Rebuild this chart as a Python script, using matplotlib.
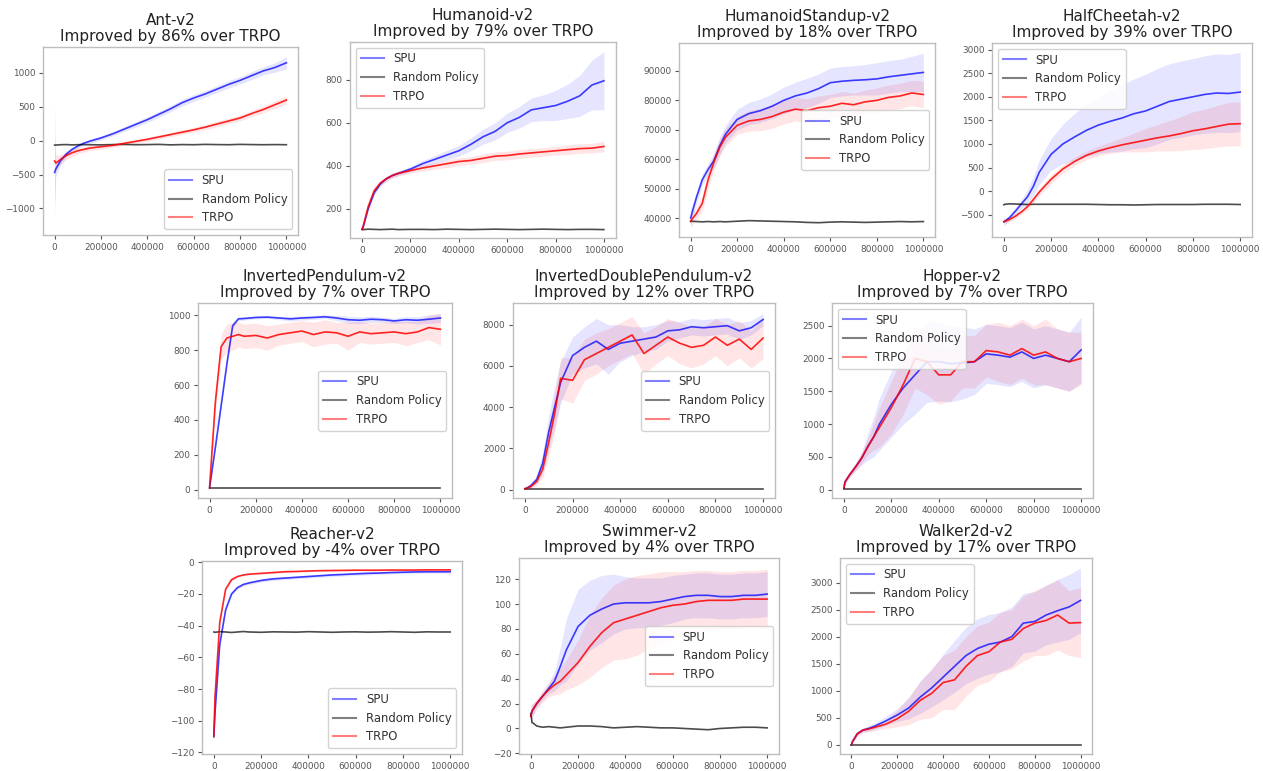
import numpy as np
import matplotlib
matplotlib.use("Agg")
import matplotlib.pyplot as plt

# ---------------- data ----------------
steps_k = [0, 5, 25, 50, 75, 100, 125, 150, 200, 250, 300, 350, 400, 450,
           500, 550, 600, 650, 700, 750, 800, 850, 900, 950, 1000]

ant_spu = [-470, -420, -300, -200, -130, -80, -40, -10, 40, 100, 170, 240, 310, 390,
           470, 560, 630, 690, 760, 830, 890, 960, 1030, 1080, 1150]
ant_spu_sd = [540, 100, 60, 40, 30, 30, 30, 30, 30, 30, 35, 40, 40, 45,
              45, 50, 50, 50, 50, 55, 55, 60, 60, 70, 90]
ant_trpo = [-300, -330, -280, -220, -180, -150, -130, -110, -90, -70, -40, -10, 20, 55,
            90, 125, 160, 200, 245, 290, 335, 400, 460, 530, 600]
ant_trpo_sd = [860, 120, 70, 60, 50, 45, 40, 40, 35, 30, 30, 30, 30, 30,
               30, 35, 35, 40, 40, 40, 45, 45, 50, 55, 60]
ant_rand = [-65, -65, -60, -58, -62, -60, -58, -60, -62, -58, -55, -60, -58, -55,
            -62, -58, -60, -55, -58, -60, -55, -58, -60, -58, -60]

hum_spu = [105, 120, 200, 275, 315, 340, 355, 365, 385, 410, 430, 450, 470, 500,
           535, 560, 600, 625, 660, 670, 680, 700, 725, 775, 795]
hum_spu_sd = [5, 8, 10, 10, 10, 10, 10, 10, 12, 15, 18, 22, 25, 30,
              35, 40, 45, 50, 55, 60, 70, 80, 95, 115, 135]
hum_trpo = [105, 120, 210, 285, 320, 340, 355, 365, 378, 390, 400, 410, 420, 425,
            435, 445, 448, 455, 460, 465, 470, 475, 480, 482, 490]
hum_trpo_sd = [5, 8, 10, 10, 12, 12, 12, 12, 12, 15, 15, 18, 18, 18,
               20, 20, 20, 20, 20, 20, 20, 22, 22, 22, 25]
hum_rand = [105, 104, 106, 105, 104, 105, 106, 104, 105, 105, 104, 106, 105, 104,
            105, 106, 105, 104, 105, 106, 105, 104, 105, 105, 104]

hs_spu = [40000, 41500, 47000, 53000, 56500, 59500, 64500, 68500, 73500, 75500, 76500, 78000, 80000, 81500,
          82500, 84000, 86000, 86500, 86800, 87000, 87300, 88000, 88500, 89000, 89500]
hs_spu_sd = [3000, 2500, 2000, 2000, 2000, 2500, 3000, 3000, 3500, 3800, 4000, 4200, 4500, 4700,
             5000, 5000, 5000, 5000, 5000, 5200, 5500, 5500, 5500, 6000, 6500]
hs_trpo = [39000, 39500, 41500, 45000, 53000, 59000, 64000, 67500, 71500, 73000, 73500, 74500, 76000, 77000,
           76500, 77500, 78000, 79000, 78500, 79500, 80000, 81000, 81500, 82500, 82000]
hs_trpo_sd = [2500, 2000, 2000, 2500, 3000, 3000, 3000, 3000, 3000, 3500, 3800, 4000, 4000, 4000,
              4000, 4000, 4000, 4000, 4000, 4000, 4200, 4200, 4300, 4300, 4500]
hs_rand = [38800, 38900, 38800, 38700, 38800, 38700, 38800, 38700, 38900, 39100, 39000, 38900, 38800, 38700,
           38500, 38400, 38600, 38700, 38600, 38500, 38600, 38700, 38800, 38700, 38800]

hc_spu = [-650, -640, -560, -420, -270, -120, 100, 400, 780, 1000, 1150, 1290, 1400, 1480,
          1550, 1640, 1700, 1800, 1900, 1950, 2000, 2050, 2080, 2070, 2100]
hc_spu_sd = [80, 60, 60, 80, 100, 150, 200, 260, 340, 420, 500, 560, 600, 650,
             700, 740, 780, 800, 800, 810, 810, 820, 830, 830, 840]
hc_trpo = [-650, -640, -600, -530, -440, -330, -180, -20, 250, 470, 630, 760, 850, 920,
           980, 1030, 1080, 1130, 1170, 1220, 1280, 1320, 1370, 1420, 1430]
hc_trpo_sd = [80, 60, 50, 50, 50, 60, 70, 80, 90, 90, 90, 90, 100, 120,
              150, 200, 250, 280, 320, 360, 400, 420, 440, 460, 470]
hc_rand = [-290, -280, -270, -275, -280, -285, -280, -280, -280, -280, -280, -280, -285, -290,
           -290, -295, -290, -285, -285, -285, -285, -280, -280, -280, -285]

ip_spu = [10, 55, 240, 480, 720, 940, 980, 982, 988, 990, 985, 980, 985, 988,
          992, 985, 975, 972, 978, 975, 968, 975, 972, 978, 985]
ip_spu_sd = [0, 5, 10, 15, 15, 15, 10, 10, 8, 8, 10, 12, 12, 12,
             10, 15, 20, 20, 18, 15, 15, 18, 20, 25, 25]
ip_trpo = [10, 110, 500, 820, 870, 880, 890, 880, 885, 870, 890, 900, 910, 890,
           905, 900, 880, 905, 895, 900, 905, 895, 905, 930, 920]
ip_trpo_sd = [0, 20, 60, 70, 80, 80, 70, 70, 70, 70, 60, 60, 60, 70,
              70, 60, 80, 60, 60, 60, 60, 70, 60, 70, 90]
ip_rand = [10] * 25

idp_spu = [50, 60, 200, 500, 1300, 2800, 4000, 5200, 6500, 6900, 7200, 6800, 7100, 7200,
           7300, 7400, 7700, 7750, 7900, 7850, 7900, 7950, 7700, 7850, 8250]
idp_spu_sd = [20, 30, 100, 200, 500, 800, 1000, 1000, 900, 1000, 1100, 1200, 900, 700,
              600, 600, 500, 400, 400, 400, 400, 400, 400, 350, 300]
idp_trpo = [50, 60, 150, 400, 1000, 2300, 3700, 5400, 5300, 6300, 6600, 6900, 7200, 7500,
            6600, 7000, 7400, 7100, 6900, 7000, 7400, 7000, 7300, 6800, 7350]
idp_trpo_sd = [20, 30, 100, 200, 400, 700, 900, 1000, 1100, 1000, 1000, 900, 900, 900,
               1000, 900, 900, 1000, 1000, 900, 900, 1000, 900, 900, 1000]
idp_rand = [20] * 25

hop_spu = [20, 120, 230, 350, 480, 650, 800, 1000, 1300, 1550, 1750, 1950, 1950, 1920,
           1930, 1950, 2070, 2050, 2020, 2100, 2000, 2050, 2000, 1950, 2130]
hop_spu_sd = [10, 30, 40, 60, 100, 200, 300, 400, 500, 550, 600, 620, 600, 580,
              550, 500, 450, 450, 450, 450, 450, 450, 450, 450, 500]
hop_trpo = [20, 120, 230, 350, 480, 650, 800, 950, 1250, 1600, 2000, 1950, 1750, 1750,
            1950, 1950, 2120, 2100, 2050, 2150, 2050, 2100, 2000, 1950, 2000]
hop_trpo_sd = [10, 30, 40, 60, 80, 120, 200, 300, 400, 450, 450, 500, 450, 400,
               400, 400, 400, 450, 450, 450, 450, 500, 450, 450, 400]
hop_rand = [10] * 25

rea_spu = [-110, -95, -52, -30, -20, -16, -14, -13, -11.5, -10.5, -10, -9.5, -9, -8.5,
           -8, -7.7, -7.3, -7, -6.8, -6.5, -6.3, -6.1, -6, -6, -6]
rea_spu_sd = [3, 3, 2, 1.5, 1, 1, 1, 1, 1, 1, 1, 1, 1, 1,
              1, 1, 1, 1, 0.8, 0.8, 0.8, 0.8, 0.8, 0.8, 0.8]
rea_trpo = [-110, -85, -38, -17, -11, -9, -8, -7.5, -7, -6.5, -6, -5.8, -5.5, -5.3,
            -5.2, -5.1, -5, -5, -5, -4.9, -4.9, -4.9, -4.8, -4.8, -4.8]
rea_trpo_sd = [3, 3, 2, 1, 0.8, 0.6, 0.5, 0.5, 0.5, 0.5, 0.5, 0.5, 0.5, 0.5,
               0.5, 0.5, 0.5, 0.5, 0.5, 0.5, 0.5, 0.5, 0.5, 0.5, 0.5]
rea_rand = [-44, -44.2, -43.8, -44, -44.3, -44, -43.7, -44, -44.2, -43.9, -44, -44.1, -43.8, -44,
            -44.2, -44, -43.9, -44.1, -44, -43.8, -44, -44.2, -43.9, -44, -44]

swi_spu = [10, 14, 20, 26, 32, 38, 50, 63, 82, 91, 96, 100, 101, 101,
           101, 102, 104, 106, 107, 107, 106, 106, 107, 107, 108]
swi_spu_sd = [8, 5, 3, 3, 4, 8, 15, 25, 30, 28, 27, 24, 21, 20,
              20, 19, 19, 18, 18, 18, 18, 18, 18, 18, 18]
swi_trpo = [10, 14, 20, 26, 31, 35, 38, 43, 53, 66, 77, 85, 88, 91,
            94, 97, 99, 100, 102, 103, 103, 103, 104, 104, 104]
swi_trpo_sd = [10, 6, 4, 5, 6, 8, 10, 12, 18, 25, 28, 30, 32, 32,
               30, 29, 27, 26, 25, 24, 23, 23, 23, 23, 24]
swi_rand = [12, 5, 2, 1, 1.5, 1, 0.5, 1, 2, 2, 1.5, 0.5, 1, 1.5,
            1, 0.5, 0.5, 0, -0.5, -1, 0, 0.5, 1, 1, 0.5]

wal_spu = [0, 60, 200, 270, 300, 340, 390, 440, 550, 680, 880, 1050, 1250, 1450,
           1650, 1780, 1860, 1900, 2000, 2250, 2280, 2400, 2480, 2550, 2670]
wal_spu_sd = [5, 20, 40, 40, 50, 60, 70, 80, 120, 200, 300, 350, 420, 480,
              520, 550, 550, 550, 550, 550, 550, 550, 580, 600, 600]
wal_trpo = [0, 60, 200, 270, 290, 320, 350, 380, 480, 620, 820, 950, 1150, 1200,
            1450, 1650, 1720, 1900, 1950, 2150, 2250, 2300, 2400, 2250, 2260]
wal_trpo_sd = [5, 20, 40, 40, 50, 60, 70, 80, 150, 250, 350, 450, 500, 550,
               550, 550, 550, 550, 550, 600, 600, 650, 650, 600, 650]
wal_rand = [0] * 25

env_names = ["Ant-v2", "Humanoid-v2", "HumanoidStandup-v2", "HalfCheetah-v2",
             "InvertedPendulum-v2", "InvertedDoublePendulum-v2", "Hopper-v2",
             "Reacher-v2", "Swimmer-v2", "Walker2d-v2"]
improvements = [86, 79, 18, 39, 7, 12, 7, -4, 4, 17]
series_labels = ["SPU", "Random Policy", "TRPO"]
x_ticks = [0, 200000, 400000, 600000, 800000, 1000000]

env_data = [
    (ant_spu, ant_spu_sd, ant_rand, ant_trpo, ant_trpo_sd),
    (hum_spu, hum_spu_sd, hum_rand, hum_trpo, hum_trpo_sd),
    (hs_spu, hs_spu_sd, hs_rand, hs_trpo, hs_trpo_sd),
    (hc_spu, hc_spu_sd, hc_rand, hc_trpo, hc_trpo_sd),
    (ip_spu, ip_spu_sd, ip_rand, ip_trpo, ip_trpo_sd),
    (idp_spu, idp_spu_sd, idp_rand, idp_trpo, idp_trpo_sd),
    (hop_spu, hop_spu_sd, hop_rand, hop_trpo, hop_trpo_sd),
    (rea_spu, rea_spu_sd, rea_rand, rea_trpo, rea_trpo_sd),
    (swi_spu, swi_spu_sd, swi_rand, swi_trpo, swi_trpo_sd),
    (wal_spu, wal_spu_sd, wal_rand, wal_trpo, wal_trpo_sd),
]

y_ticks = [
    [-1000, -500, 0, 500, 1000],
    [200, 400, 600, 800],
    [40000, 50000, 60000, 70000, 80000, 90000],
    [-500, 0, 500, 1000, 1500, 2000, 2500, 3000],
    [0, 200, 400, 600, 800, 1000],
    [0, 2000, 4000, 6000, 8000],
    [0, 500, 1000, 1500, 2000, 2500],
    [-120, -100, -80, -60, -40, -20, 0],
    [-20, 0, 20, 40, 60, 80, 100, 120],
    [0, 500, 1000, 1500, 2000, 2500, 3000],
]

# ---------------- layout (pixel boxes: left, top, right, bottom) ----------------
W, H = 1263, 771
boxes = [
    (43, 47, 298, 235), (350, 42, 616, 238), (679, 43, 935, 237), (992, 43, 1252, 237),
    (198, 303, 452, 498), (513, 303, 775, 498), (832, 303, 1093, 498),
    (202, 561, 462, 754), (519, 558, 779, 754), (840, 558, 1092, 754),
]
ylims = [
    (-1393, 1383), (65, 975), (33540, 99500), (-974, 3141),
    (-48, 1071), (-404, 9050), (-127, 2845),
    (-121, 0.8), (-20.5, 137), (-172, 3455),
]
legend_locs = ["lower right", "upper left", "center right", "upper left",
               "center right", "center right", "upper left",
               "lower right", "center right", "upper left"]

fig = plt.figure(figsize=(W / 100, H / 100), dpi=100)
x = np.array(steps_k) * 1000

for i, (name, imp, data, box) in enumerate(zip(env_names, improvements, env_data, boxes)):
    l, t, r, b = box
    ax = fig.add_axes([l / W, 1 - b / H, (r - l) / W, (b - t) / H])
    spu, spu_sd, rand, trpo, trpo_sd = [np.array(d, dtype=float) for d in data]

    ax.fill_between(x, spu - spu_sd, spu + spu_sd, color="blue", alpha=0.1, linewidth=0)
    ax.fill_between(x, trpo - trpo_sd, trpo + trpo_sd, color="red", alpha=0.1, linewidth=0)
    l1, = ax.plot(x, spu, color="blue", alpha=0.75, lw=1.2, label=series_labels[0])
    l2, = ax.plot(x, rand, color="black", alpha=0.7, lw=1.2, label=series_labels[1])
    l3, = ax.plot(x, trpo, color="red", alpha=0.85, lw=1.2, label=series_labels[2])

    ax.set_xlim(-50000, 1050000)
    ax.set_ylim(*ylims[i])
    ax.set_xticks(x_ticks)
    ax.set_yticks(y_ticks[i])
    ax.ticklabel_format(style="plain", useOffset=False)
    ax.tick_params(labelsize=6.4, colors="#555555", length=3, width=0.8, pad=2.5)
    for s in ax.spines.values():
        s.set_color("#bdbdbd")
        s.set_linewidth(1.0)
    ax.set_title(f"{name}\nImproved by {imp}% over TRPO", fontsize=11,
                 color="#222222", pad=4, linespacing=1.1)
    leg = ax.legend(handles=[l1, l2, l3], loc=legend_locs[i], fontsize=8.4,
                    framealpha=0.85, edgecolor="#cccccc")
    for h in leg.get_lines():
        h.set_alpha(0.5)
        h.set_linewidth(1.5)
    for txt in leg.get_texts():
        txt.set_color("#333333")

fig.savefig("out.png", dpi=100)
